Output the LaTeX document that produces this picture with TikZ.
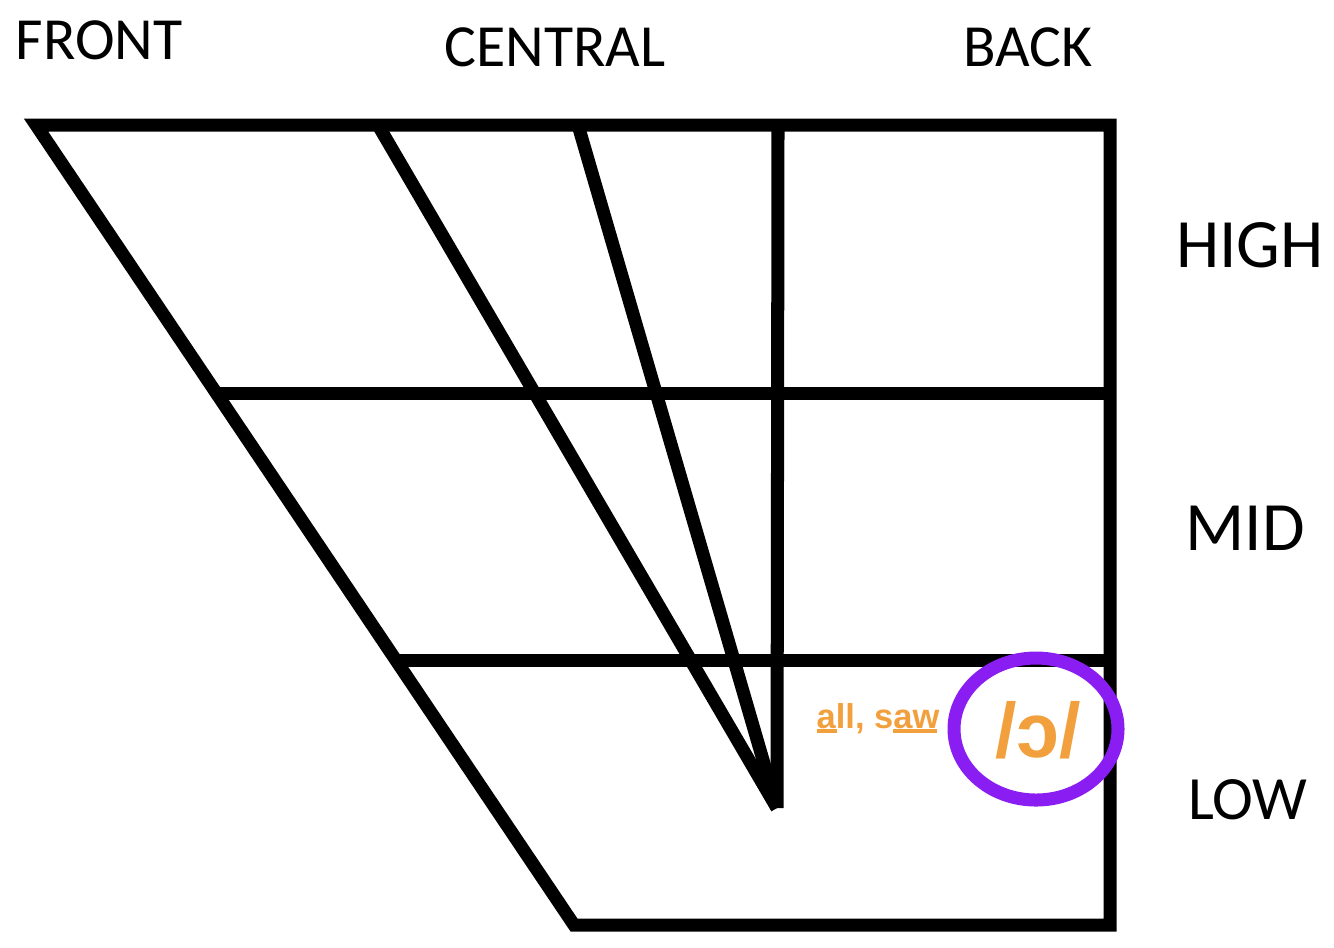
\documentclass[tikz,border=0pt]{standalone}
\usepackage{fontspec}
\setmainfont{Carlito}
\newfontfamily\lsans{Liberation Sans}
\definecolor{vorange}{HTML}{F2A03D}
\definecolor{vpurple}{HTML}{8A1EF2}
\tikzset{
  grid/.style={line width=3.7pt, line join=miter},
  lab/.style={inner sep=0pt, font=\fontsize{17}{20}\selectfont},
  rlab/.style={inner sep=0pt, font=\fontsize{19.7}{24}\selectfont},
}
\begin{document}
\begin{tikzpicture}[x=0.01cm, y=-0.01cm]
\useasboundingbox (0,0) rectangle (1334,947);
% coordinates
\coordinate (tl) at (36,125);
\coordinate (tr) at (1110,125);
\coordinate (br) at (1110,925);
\coordinate (bl) at (574,925);
\coordinate (c1) at (378,125);
\coordinate (c2) at (578,125);
\coordinate (c3) at (778,125);
\coordinate (apex) at (777,808);
\coordinate (h1l) at (217,393);
\coordinate (h1r) at (1110,393);
\coordinate (h2l) at (397,660);
\coordinate (h2r) at (1110,660);
% outline
\draw[grid] (tl) -- (tr) -- (br) -- (bl) -- cycle;
\draw[grid] (h1l) -- (h1r);
\draw[grid] (h2l) -- (h2r);
\draw[grid] (c1) -- (apex);
\draw[grid] (c2) -- (apex);
\draw[grid] (c3) -- (apex);
% labels
\node[lab] (front) at (99,40) {FRONT};
\node[lab] (central) at (555,47) {CENTRAL};
\node[lab] (back) at (1028,47) {BACK};
\node[rlab] (high) at (1250,245) {HIGH};
\node[rlab] (mid) at (1245,528) {MID};
\node[rlab, font=\fontsize{17.5}{21}\selectfont] (low) at (1248,800) {LOW};
% highlighted vowel
\coordinate (oc) at (1036,729);
\draw[vpurple, line width=3.7pt] (oc) ellipse [x radius=82, y radius=71];
\node[inner sep=0pt, text=vorange, font=\lsans\bfseries\fontsize{22}{26}\selectfont] (vowel) at (1038,730) {/ɔ/};
\node[inner sep=0pt, text=vorange, font=\lsans\bfseries\fontsize{9.8}{12}\selectfont, anchor=base east] (ex) at (940,728)
  {\rlap{\rule[-0.13em]{0.58em}{0.09em}}a%
   ll, s\rlap{\rule[-0.13em]{1.28em}{0.09em}}aw};
\end{tikzpicture}
\end{document}
